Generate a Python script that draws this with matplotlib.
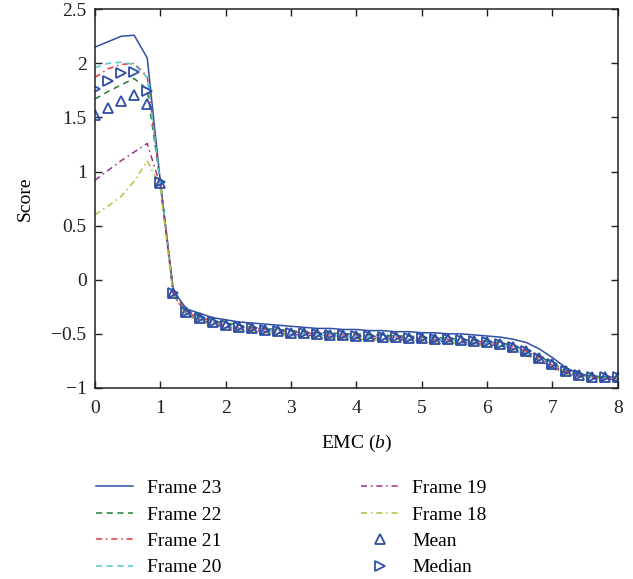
import matplotlib
matplotlib.use('Agg')
import matplotlib.pyplot as plt
import numpy as np

plt.rcParams['font.family'] = ['Liberation Serif', 'DejaVu Serif']
plt.rcParams['mathtext.fontset'] = 'custom'
plt.rcParams['mathtext.it'] = 'Liberation Serif:italic'

# EMC threshold b (sampled every 0.2)
emc = [0.0, 0.2, 0.4, 0.6, 0.8, 1.0, 1.2, 1.4, 1.6, 1.8,
       2.0, 2.2, 2.4, 2.6, 2.8, 3.0, 3.2, 3.4, 3.6, 3.8,
       4.0, 4.2, 4.4, 4.6, 4.8, 5.0, 5.2, 5.4, 5.6, 5.8,
       6.0, 6.2, 6.4, 6.6, 6.8, 7.0, 7.2, 7.4, 7.6, 7.8, 8.0]

frame23 = [2.15, 2.20, 2.25, 2.26, 2.05, 0.91, -0.10, -0.27, -0.31, -0.35,
           -0.37, -0.39, -0.40, -0.41, -0.42, -0.43, -0.44, -0.45, -0.45, -0.46,
           -0.46, -0.47, -0.47, -0.48, -0.48, -0.49, -0.49, -0.50, -0.50, -0.51,
           -0.52, -0.53, -0.55, -0.58, -0.64, -0.72, -0.81, -0.87, -0.89, -0.90, -0.90]
frame22 = [1.67, 1.74, 1.80, 1.86, 1.76, 0.90, -0.12, -0.29, -0.34, -0.38,
           -0.40, -0.42, -0.44, -0.45, -0.46, -0.47, -0.48, -0.49, -0.49, -0.50,
           -0.50, -0.51, -0.51, -0.52, -0.52, -0.53, -0.53, -0.54, -0.55, -0.56,
           -0.57, -0.58, -0.61, -0.65, -0.71, -0.77, -0.84, -0.88, -0.89, -0.90, -0.90]
frame21 = [1.87, 1.95, 1.99, 2.00, 1.88, 0.90, -0.12, -0.30, -0.35, -0.39,
           -0.42, -0.44, -0.45, -0.46, -0.47, -0.48, -0.49, -0.50, -0.51, -0.51,
           -0.52, -0.52, -0.53, -0.53, -0.54, -0.54, -0.55, -0.55, -0.56, -0.57,
           -0.58, -0.59, -0.62, -0.66, -0.72, -0.79, -0.85, -0.89, -0.90, -0.91, -0.91]
frame20 = [1.96, 2.00, 2.01, 1.99, 1.87, 0.90, -0.13, -0.31, -0.36, -0.40,
           -0.43, -0.45, -0.46, -0.47, -0.48, -0.50, -0.50, -0.51, -0.52, -0.52,
           -0.53, -0.53, -0.54, -0.54, -0.55, -0.55, -0.56, -0.56, -0.57, -0.58,
           -0.59, -0.60, -0.63, -0.68, -0.74, -0.80, -0.86, -0.89, -0.90, -0.91, -0.91]
frame19 = [0.92, 1.01, 1.10, 1.18, 1.26, 0.87, -0.14, -0.32, -0.37, -0.41,
           -0.44, -0.46, -0.47, -0.48, -0.49, -0.51, -0.51, -0.52, -0.53, -0.53,
           -0.54, -0.54, -0.55, -0.55, -0.56, -0.56, -0.57, -0.57, -0.58, -0.59,
           -0.60, -0.61, -0.64, -0.69, -0.75, -0.81, -0.86, -0.89, -0.91, -0.92, -0.92]
frame18 = [0.60, 0.68, 0.77, 0.91, 1.10, 0.85, -0.14, -0.33, -0.38, -0.42,
           -0.45, -0.47, -0.48, -0.49, -0.50, -0.52, -0.52, -0.53, -0.54, -0.54,
           -0.55, -0.55, -0.56, -0.56, -0.57, -0.57, -0.58, -0.58, -0.59, -0.60,
           -0.61, -0.62, -0.65, -0.70, -0.76, -0.82, -0.87, -0.89, -0.90, -0.91, -0.91]
mean = [1.52, 1.59, 1.65, 1.71, 1.62, 0.89, -0.12, -0.30, -0.35, -0.39,
        -0.42, -0.44, -0.45, -0.46, -0.47, -0.49, -0.49, -0.50, -0.51, -0.51,
        -0.52, -0.52, -0.53, -0.53, -0.54, -0.54, -0.55, -0.55, -0.56, -0.57,
        -0.58, -0.59, -0.62, -0.66, -0.72, -0.78, -0.84, -0.88, -0.90, -0.90, -0.90]
median = [1.76, 1.84, 1.91, 1.92, 1.74, 0.90, -0.12, -0.30, -0.35, -0.39,
          -0.42, -0.44, -0.45, -0.46, -0.47, -0.49, -0.49, -0.50, -0.51, -0.51,
          -0.52, -0.52, -0.53, -0.53, -0.54, -0.54, -0.55, -0.55, -0.56, -0.57,
          -0.58, -0.59, -0.62, -0.66, -0.72, -0.78, -0.84, -0.88, -0.90, -0.90, -0.90]

x_ticks = [0, 1, 2, 3, 4, 5, 6, 7, 8]
y_ticks = [-1, -0.5, 0, 0.5, 1, 1.5, 2, 2.5]

fig = plt.figure(figsize=(6.33, 5.79), dpi=100)
ax = fig.add_axes((0.150, 0.330, 0.826, 0.654))

ax.plot(emc, frame23, '-', color='#2f4fa6', lw=1.1, label='Frame 23')
ax.plot(emc, frame22, '--', color='#1e7f3c', lw=1.1, dashes=(4, 3), label='Frame 22')
ax.plot(emc, frame21, '-.', color='#e8383a', lw=1.1, dashes=(4, 2.5, 1, 2.5), label='Frame 21')
ax.plot(emc, frame20, '--', color='#4cc8c8', lw=1.1, dashes=(4, 3), label='Frame 20')
ax.plot(emc, frame19, '-.', color='#9c2f8c', lw=1.1, dashes=(4, 2.5, 1, 2.5), label='Frame 19')
ax.plot(emc, frame18, '-.', color='#b8be3a', lw=1.1, dashes=(4, 2.5, 1, 2.5), label='Frame 18')
ax.plot(emc, mean, '^', ls='none', mfc='none', mec='#2f4fa6', ms=6.5, mew=1.3, label='Mean')
ax.plot(emc, median, '>', ls='none', mfc='none', mec='#2f4fa6', ms=6.5, mew=1.3, label='Median')

ax.set_xlim(0, 8)
ax.set_ylim(-1, 2.5)
ax.set_xticks(x_ticks)
ax.set_yticks(y_ticks)
ax.set_yticklabels(['\u22121', '\u22120.5', '0', '0.5', '1', '1.5', '2', '2.5'])
ax.tick_params(direction='in', length=5, width=1, top=True, right=True,
               labelsize=14, colors='#222222')
ax.tick_params(axis='x', pad=9)
ax.tick_params(axis='y', pad=6)
for sp in ax.spines.values():
    sp.set_linewidth(1.1)
    sp.set_color('#222222')

ax.set_xlabel('EMC ($b$)', fontsize=14, labelpad=11)
ax.set_ylabel('Score', fontsize=14, labelpad=13)

fig.legend(loc='upper left', bbox_to_anchor=(0.14, 0.185), ncol=2, frameon=False,
           fontsize=14, handlelength=1.9, handletextpad=0.7, columnspacing=7.2,
           labelspacing=0.45, numpoints=1, borderaxespad=0)

fig.savefig('out.png', dpi=100)
